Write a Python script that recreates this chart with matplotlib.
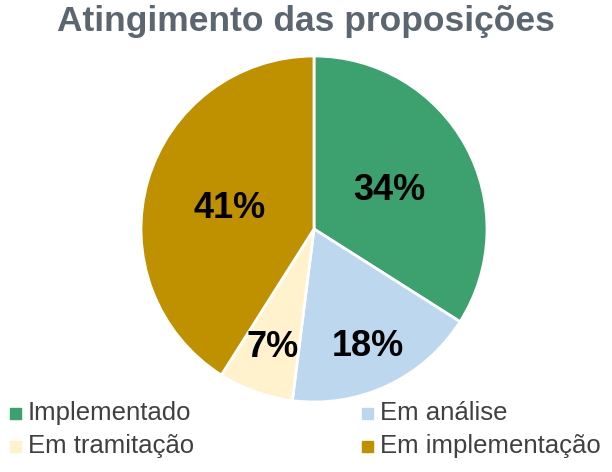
import matplotlib
matplotlib.use("Agg")
import matplotlib.pyplot as plt
import numpy as np

categories = ["Implementado", "Em análise", "Em tramitação", "Em implementação"]
values = [34, 18, 7, 41]
colors = ["#3CA06F", "#BDD7EE", "#FFF2CC", "#BF9000"]
label_dist = [0.50, 0.73, 0.705, 0.505]

plt.rcParams['font.family'] = ['Liberation Sans', 'DejaVu Sans']
fig = plt.figure(figsize=(6.12, 4.72), dpi=100)
W, H = 612, 472
cx, cy, r = 314, 229, 173
ax = fig.add_axes([(cx - r) / W, 1 - (cy + r) / H, 2 * r / W, 2 * r / H])
wedges, _ = ax.pie(values, colors=colors, startangle=90, counterclock=False,
                   wedgeprops=dict(edgecolor="white", linewidth=2))
ax.set_xlim(-1, 1); ax.set_ylim(-1, 1)
ax.set_aspect('equal')
ax.axis('off')
for w, v, d in zip(wedges, values, label_dist):
    ang = np.deg2rad((w.theta1 + w.theta2) / 2)
    ax.annotate(f"{v}%", (d * np.cos(ang), d * np.sin(ang)), xytext=(0, -2.5),
                textcoords='offset points', ha='center', va='center',
                fontsize=26, fontweight='bold', color='black')

fig.text(0.5, 1 - 22 / H, "Atingimento das proposições", ha='center', va='center',
         fontsize=25.5, fontweight='bold', color='#5B6670')

# legend, laid out row-wise like the reference
xs = [10, 362]
ys = [413, 446]
for i, (cat, col) in enumerate(zip(categories, colors)):
    row, c = divmod(i, 2)
    x, y = xs[c], ys[row]
    fig.patches.append(plt.Rectangle((x / W, 1 - (y + 6) / H), 11 / W, 11 / H,
                                     transform=fig.transFigure, color=col,
                                     figure=fig))
    fig.text((x + 18) / W, 1 - y / H, cat, ha='left', va='center',
             fontsize=18.5, color='#404040')
fig.savefig("out.png", dpi=100)
